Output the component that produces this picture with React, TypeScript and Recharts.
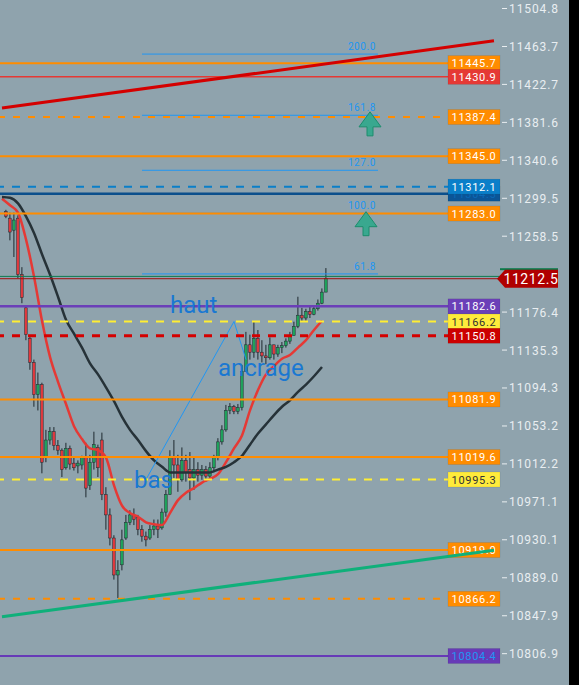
import React from 'react';
import { ComposedChart, Bar, Line, XAxis, YAxis, ReferenceLine, ReferenceDot } from 'recharts';

// candles, one per 4px slot, starting at slot 1
const candleOpen = [
  11285, 11278, 11265, 11278, 11217, 11181, 11148, 11122, 11087, 11098,
  11019, 11038, 11047, 11032, 11027, 11008, 11029, 11013, 11010, 11011,
  11019, 10989, 11014, 11030, 11038, 10979, 10957, 10932, 10892, 10903,
  10932, 10949, 10957, 10954, 10941, 10934, 10932, 10941, 10945, 10943,
  10960, 10979, 11019, 11011, 10995, 11016, 11006, 10997, 11006, 11000,
  11006, 10999, 11008, 11019, 11036, 11049, 11070, 11074, 11069, 11073,
  11112, 11141, 11133, 11148, 11133, 11129, 11127, 11141, 11131, 11138,
  11140, 11145, 11151, 11161, 11173, 11170, 11177, 11174, 11180, 11186, 11198,
];
const candleHigh = [
  11287, 11284, 11284, 11281, 11225, 11182, 11151, 11125, 11111, 11100,
  11049, 11052, 11052, 11038, 11029, 11035, 11032, 11019, 11016, 11021,
  11035, 11022, 11047, 11033, 11046, 10987, 10964, 10935, 10908, 10941,
  10957, 10962, 10964, 10957, 10946, 10939, 10946, 10952, 10952, 10964,
  10984, 11027, 11038, 11022, 11030, 11022, 11025, 11019, 11014, 11011,
  11010, 11014, 11022, 11040, 11054, 11076, 11078, 11076, 11077, 11119,
  11155, 11152, 11166, 11157, 11146, 11141, 11149, 11141, 11141, 11144,
  11148, 11155, 11166, 11193, 11181, 11180, 11182, 11183, 11190, 11202, 11224,
];
const candleLow = [
  11278, 11254, 11236, 11213, 11186, 11146, 11114, 11074, 11070, 11002,
  11014, 11033, 11027, 11022, 10998, 11006, 11006, 11005, 11002, 11006,
  10976, 10984, 11006, 10998, 10973, 10941, 10924, 10887, 10867, 10897,
  10930, 10946, 10946, 10935, 10928, 10923, 10930, 10935, 10932, 10941,
  10955, 10979, 10997, 10982, 10993, 10993, 10973, 10984, 10993, 10995,
  10993, 10997, 11003, 11016, 11033, 11047, 11066, 11066, 11066, 11070,
  11112, 11125, 11127, 11125, 11122, 11120, 11125, 11125, 11128, 11132,
  11138, 11142, 11151, 11159, 11166, 11167, 11170, 11173, 11178, 11185, 11198,
];
const candleClose = [
  11280, 11263, 11276, 11217, 11192, 11152, 11122, 11087, 11098, 11014,
  11038, 11047, 11032, 11027, 11006, 11029, 11012, 11008, 11013, 11019,
  10986, 11014, 11033, 11008, 10979, 10957, 10932, 10892, 10897, 10930,
  10949, 10957, 10952, 10941, 10934, 10930, 10941, 10945, 10941, 10960,
  10979, 11019, 11011, 10995, 11016, 11003, 10997, 11006, 11000, 11006,
  10999, 11008, 11019, 11036, 11049, 11070, 11074, 11069, 11073, 11112,
  11141, 11133, 11148, 11133, 11129, 11127, 11141, 11131, 11138, 11140,
  11145, 11151, 11161, 11173, 11170, 11177, 11174, 11180, 11186, 11198, 11212.5,
];

// moving averages, one value every 2 slots
const fastMA = [
  11299, 11292, 11284, 11255, 11215, 11167, 11128, 11101, 11077, 11053,
  11039, 11029, 11027, 11019, 10989, 10967, 10959, 10955, 10949, 10947,
  10946, 10959, 10973, 10981, 10986, 10992, 10996, 11001, 11014, 11029,
  11043, 11070, 11092, 11109, 11118, 11126, 11130, 11138, 11146, 11157, 11167,
];
const slowMA = [
  11301, 11300, 11294, 11280, 11262, 11239, 11217, 11193, 11168, 11153,
  11138, 11121, 11109, 11095, 11080, 11063, 11049, 11038, 11026, 11016,
  11009, 11003, 11003, 11003, 11003, 11003, 11003, 11006, 11009, 11014,
  11021, 11033, 11045, 11055, 11065, 11074, 11081, 11090, 11098, 11107, 11117,
];

const yTicks = [
  11504.8, 11463.7, 11422.7, 11381.6, 11340.6, 11299.5, 11258.5, 11176.4, 11135.3,
  11094.3, 11053.2, 11012.2, 10971.1, 10930.1, 10889.0, 10847.9, 10806.9,
];

const levelValues = [
  11445.7, 11430.9, 11387.4, 11345.0, 11304.5, 11312.1, 11283.0, 11182.6,
  11166.2, 11150.8, 11081.9, 11019.6, 10995.3, 10919.0, 10866.2, 10804.4,
];

const fibValues = [11455.5, 11389.3, 11329.8, 11283.3, 11217.7];
const fibNames = ['200.0', '161.8', '127.0', '100.0', '61.8'];

const lastPrice = 11212.5;
const askPrice = 11215.0;

const redTrend = [11397.1, 11469.8];
const greenTrend = [10846.9, 10918.8];

const swingNames = ['bas', 'haut', 'ancrage'];
const swingPrices = [10995.3, 11166.2, 11125.0];

const SLOTS = 125;
const ORANGE = '#ff8c00';

const levelStyles = [
  { stroke: ORANGE, width: 2, bg: ORANGE, fg: '#fff' },
  { stroke: '#e53935', width: 1.5, bg: '#e53935', fg: '#fff' },
  { stroke: ORANGE, width: 2, dash: '7 8', bg: ORANGE, fg: '#fff' },
  { stroke: ORANGE, width: 2, bg: ORANGE, fg: '#fff' },
  { stroke: '#0b4f8c', width: 2.5, bg: '#0b5597', fg: '#0a6ab8' },
  { stroke: '#0a7fc9', width: 2, dash: '8 8', bg: '#0a7fc9', fg: '#fff' },
  { stroke: ORANGE, width: 2, bg: ORANGE, fg: '#fff' },
  { stroke: '#6b3fb8', width: 2.5, bg: '#6b3fb8', fg: '#fff' },
  { stroke: '#ffee33', width: 2, dash: '8 8', bg: '#ffeb3b', fg: '#333' },
  { stroke: '#d50000', width: 3, dash: '8 8', bg: '#cc0000', fg: '#fff' },
  { stroke: ORANGE, width: 2, bg: ORANGE, fg: '#fff' },
  { stroke: ORANGE, width: 2, bg: ORANGE, fg: '#fff' },
  { stroke: '#ffee33', width: 2, dash: '8 8', bg: '#ffeb3b', fg: '#333' },
  { stroke: ORANGE, width: 2, bg: ORANGE, fg: '#fff' },
  { stroke: ORANGE, width: 2, dash: '7 8', bg: ORANGE, fg: '#fff' },
  { stroke: '#673ab7', width: 2, bg: '#673ab7', fg: '#2196f3' },
];

const data = Array.from({ length: SLOTS }, (_, i) => {
  const c = i - 1;
  const has = c >= 0 && c < candleClose.length;
  const k = i / 2;
  return {
    i,
    open: has ? candleOpen[c] : null,
    high: has ? candleHigh[c] : null,
    low: has ? candleLow[c] : null,
    close: has ? candleClose[c] : null,
    range: has ? [candleLow[c], candleHigh[c]] : null,
    fast: i % 2 === 0 && k < fastMA.length ? fastMA[k] : null,
    slow: i % 2 === 0 && k < slowMA.length ? slowMA[k] : null,
  };
});

const FONT = 'Roboto, sans-serif';

const Candle = (p: any) => {
  const d = p.payload;
  if (!d || d.high == null) return <g />;
  const top = Math.min(p.y, p.y + p.height);
  const h = Math.abs(p.height);
  const k = d.high === d.low ? 0 : h / (d.high - d.low);
  const yO = top + (d.high - d.open) * k;
  const yC = top + (d.high - d.close) * k;
  const cx = p.x + p.width / 2;
  const up = d.close >= d.open;
  return (
    <g>
      <line x1={cx} x2={cx} y1={top} y2={top + h} stroke="#1e292e" strokeWidth={1} />
      <rect
        x={cx - 1.3}
        y={Math.min(yO, yC)}
        width={2.6}
        height={Math.max(1, Math.abs(yC - yO))}
        fill={up ? '#1fa35c' : '#e0393e'}
        stroke="#1e292e"
        strokeWidth={0.5}
      />
    </g>
  );
};

const AxisTick = (p: any) => (
  <g>
    <line x1={p.x - 6} x2={p.x - 1} y1={p.y} y2={p.y} stroke="#e9eef1" strokeWidth={1} />
    <text x={p.x + 1} y={p.y + 4.5} fill="#e9eef1" fontSize={12} fontFamily={FONT} letterSpacing={0.9}>
      {Number(p.payload.value).toFixed(1)}
    </text>
  </g>
);

const boxLabel = (text: string, bg: string, fg: string) => (p: any) => {
  const vb = p.viewBox || {};
  const right = vb.x + vb.width;
  const y = vb.y;
  return (
    <g>
      <rect x={right - 52} y={y - 7.5} width={52} height={15} fill={bg} stroke="rgba(0,0,0,0.15)" strokeWidth={0.5} />
      <text x={right - 26} y={y + 4} textAnchor="middle" fill={fg} fontSize={11} fontFamily={FONT} letterSpacing={0.7}>
        {text}
      </text>
    </g>
  );
};

const fibLabel = (text: string) => (p: any) => {
  const vb = p.viewBox || {};
  return (
    <text x={vb.x + vb.width - 2} y={vb.y - 4} textAnchor="end" fill="#2196f3" fontSize={10} fontFamily={FONT} letterSpacing={0.6}>
      {text}
    </text>
  );
};

const priceLabel = (text: string) => (p: any) => {
  const vb = p.viewBox || {};
  const x0 = vb.x + vb.width - 3;
  const y = vb.y;
  return (
    <g>
      <rect x={x0 + 3} y={y - 10.5} width={58} height={2} fill="#0a7a4a" />
      <polygon points={`${x0},${y} ${x0 + 8},${y - 9} ${x0 + 61},${y - 9} ${x0 + 61},${y + 9} ${x0 + 8},${y + 9}`} fill="#b00000" />
      <text x={x0 + 34} y={y + 5} textAnchor="middle" fill="#fff" fontSize={14} fontFamily={FONT} letterSpacing={0.6}>
        {text}
      </text>
    </g>
  );
};

const noteShape = (text: string) => (p: any) => (
  <text x={p.cx} y={p.cy} fill="#1a78d2" fontSize={24} fontFamily={FONT}>
    {text}
  </text>
);

const arrowShape = (p: any) => {
  const x = p.cx;
  const y = p.cy;
  return (
    <path
      d={`M${x},${y} L${x + 11},${y + 15} L${x + 3},${y + 15} L${x + 3},${y + 24} L${x - 3},${y + 24} L${x - 3},${y + 15} L${x - 11},${y + 15} Z`}
      fill="#2aa98a"
      fillOpacity={0.85}
      stroke="#1c8d6c"
      strokeWidth={1}
    />
  );
};

export default function App() {
  return (
    <div style={{ position: 'absolute', left: 0, top: 0, width: 579, height: 685, background: '#000' }}>
      <ComposedChart
        width={569}
        height={685}
        data={data}
        margin={{ top: 0, right: 0, bottom: 0, left: 0 }}
        style={{ background: '#8fa3ad' }}
      >
        <XAxis dataKey="i" type="category" hide />
        <YAxis
          orientation="right"
          width={69}
          domain={[10773, 11514]}
          allowDataOverflow
          ticks={yTicks}
          interval={0}
          axisLine={false}
          tickLine={false}
          tick={<AxisTick />}
        />
        <Bar dataKey="range" shape={<Candle />} isAnimationActive={false} />
        <Line dataKey="fast" stroke="#e53935" strokeWidth={2.5} dot={false} activeDot={false} connectNulls type="monotone" isAnimationActive={false} />
        <Line dataKey="slow" stroke="#263238" strokeWidth={2.5} dot={false} activeDot={false} connectNulls type="monotone" isAnimationActive={false} />

        {fibValues.map((v, j) => (
          <ReferenceLine
            key={'f' + j}
            segment={[{ x: 35, y: v }, { x: 94, y: v }]}
            stroke="#2196f3"
            strokeWidth={1}
            label={fibLabel(fibNames[j])}
          />
        ))}

        <ReferenceLine
          segment={[{ x: 36, y: swingPrices[0] }, { x: 58, y: swingPrices[1] }]}
          stroke="#2196f3"
          strokeWidth={1}
        />
        <ReferenceLine
          segment={[{ x: 58, y: swingPrices[1] }, { x: 61, y: swingPrices[2] }]}
          stroke="#2196f3"
          strokeWidth={1}
        />

        <ReferenceLine y={askPrice} stroke="#0e7a50" strokeWidth={1} />

        {levelValues.map((v, j) => {
          const s = levelStyles[j];
          return (
            <ReferenceLine
              key={'l' + j}
              y={v}
              stroke={s.stroke}
              strokeWidth={s.width}
              strokeDasharray={s.dash}
              label={boxLabel(v.toFixed(1), s.bg, s.fg)}
            />
          );
        })}

        <ReferenceLine
          segment={[{ x: 0, y: redTrend[0] }, { x: 123, y: redTrend[1] }]}
          stroke="#d40000"
          strokeWidth={3}
        />
        <ReferenceLine
          segment={[{ x: 0, y: greenTrend[0] }, { x: 123, y: greenTrend[1] }]}
          stroke="#0fb07a"
          strokeWidth={3}
        />

        <ReferenceDot x={42} y={11175.4} shape={noteShape(swingNames[1])} />
        <ReferenceDot x={54} y={11107.2} shape={noteShape(swingNames[2])} />
        <ReferenceDot x={33} y={10986.1} shape={noteShape(swingNames[0])} />
        <ReferenceDot x={92} y={11393} shape={arrowShape} />
        <ReferenceDot x={91} y={11285} shape={arrowShape} />

        <ReferenceLine y={lastPrice} stroke="#a01010" strokeWidth={1} label={priceLabel(lastPrice.toFixed(1))} />
      </ComposedChart>
    </div>
  );
}
